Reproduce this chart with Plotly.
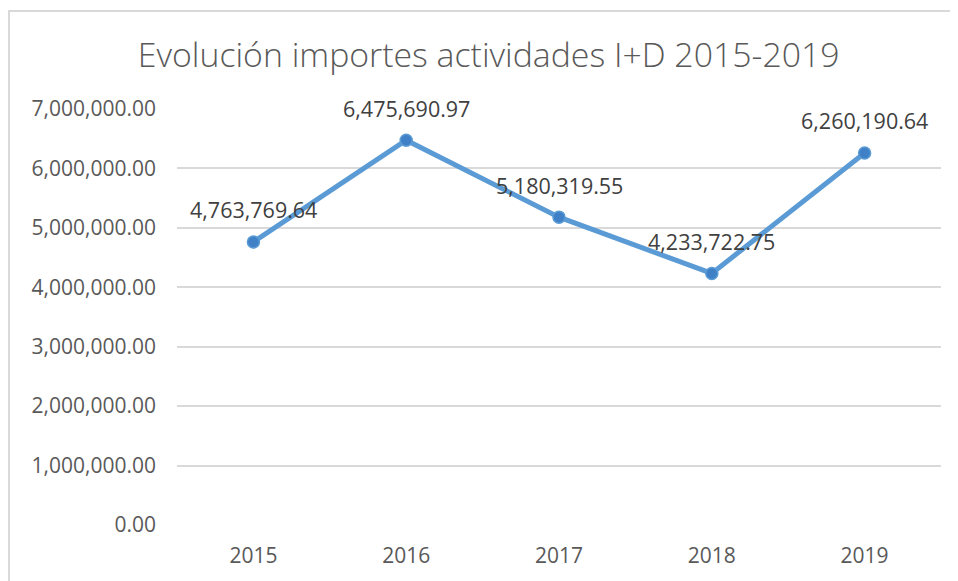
import plotly.graph_objects as go

years = ["2015", "2016", "2017", "2018", "2019"]
importes = [4763769.64, 6475690.97, 5180319.55, 4233722.75, 6260190.64]
y_ticks = [0, 1000000, 2000000, 3000000, 4000000, 5000000, 6000000, 7000000]
title_text = "Evolución importes actividades I+D 2015-2019"

FONT = "Open Sans"
TXT = "#595959"

fig = go.Figure()
fig.add_trace(go.Scatter(
    x=years, y=importes, mode="lines+markers",
    line=dict(color="#5B9BD5", width=5),
    marker=dict(size=12, color="#3F80C6", line=dict(color="#5B9BD5", width=1.5)),
    hoverinfo="skip", showlegend=False,
))

for i, yv in enumerate(importes):
    fig.add_annotation(x=i, y=yv, xref="x", yref="y", text=f"{yv:,.2f}", showarrow=False,
                       yshift=32, font=dict(family=FONT, size=21.5, color="#404040"))

W, H = 950, 573
L, R, T, B = 169, 17, 101, 52
PW, PH = W - L - R, H - T - B

fig.update_layout(
    width=W, height=H,
    margin=dict(l=L, r=R, t=T, b=B),
    paper_bgcolor="white", plot_bgcolor="white",
    title=dict(text=title_text, x=0.506, xanchor="center", y=1 - 47 / H, yanchor="middle",
               font=dict(family=FONT, size=33.8, color=TXT, weight=300)),
    font=dict(family=FONT, color=TXT),
    xaxis=dict(type="category", range=[-0.5, 4.5], showgrid=False, zeroline=False,
               showline=False, ticks="", tickfont=dict(size=21, color=TXT),
               ticklabelstandoff=16),
    yaxis=dict(range=[0, 7000000], tickvals=y_ticks,
               ticktext=[f"{v:,.2f}" for v in y_ticks],
               showgrid=True, gridcolor="#D9D9D9", gridwidth=1.6,
               zeroline=False, showline=False, ticks="",
               tickfont=dict(size=21, color=TXT), ticklabelstandoff=20),
    shapes=[dict(type="rect", xref="paper", yref="paper",
                 x0=(1 - L) / PW, x1=(W + 20 - L) / PW,
                 y0=-(B + 20) / PH, y1=(PH + T - 2) / PH,
                 line=dict(color="#D9D9D9", width=2), layer="below")],
)
fig.write_html("out.html")
